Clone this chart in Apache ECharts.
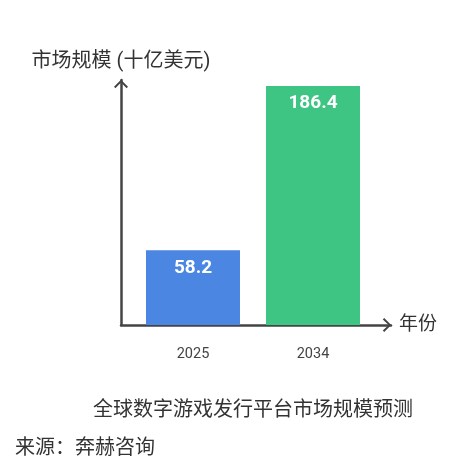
<!DOCTYPE html>
<html>
<head>
<meta charset="utf-8">
<script src="https://cdn.jsdelivr.net/npm/echarts@6/dist/echarts.min.js"></script>
<style>
  html, body { margin: 0; padding: 0; background: #fff; }
  #chart { width: 470px; height: 470px; }
</style>
</head>
<body>
<div id="chart"></div>
<script>
const years = ['2025', '2034'];
const marketSize = [58.2, 186.4];
const barColors = ['#4A86E2', '#3EC584'];

const chartTitle = '全球数字游戏发行平台市场规模预测';
const sourceText = '来源：奔赫咨询';
const yName = '市场规模 (十亿美元)';
const xName = '年份';

const font = 'Roboto, "Noto Sans CJK SC", sans-serif';
const axisColor = '#444';
// open chevron pointing up, rotated by echarts for the x axis
const arrow = 'path://M0,7 L7,0 L14,7 L12.6,8.4 L7,2.6 L1.4,8.4 Z';

const myChart = echarts.init(document.getElementById('chart'));

const option = {
    backgroundColor: '#fff',
    animation: false,
    title: [
        { text: chartTitle, left: 88, top: 396,
          textStyle: { fontFamily: font, fontSize: 20, fontWeight: 'normal', color: '#333' } },
        { text: sourceText, left: 10, top: 434,
          textStyle: { fontFamily: font, fontSize: 20, fontWeight: 'normal', color: '#333' } }
    ],
    grid: [
        // axis lines with arrows
        { left: 121, right: 79, top: 80, bottom: 145 },
        // bars
        { left: 133, right: 97, top: 80, bottom: 145 }
    ],
    xAxis: [
        {
            gridIndex: 0, type: 'value', min: 0, max: 1,
            name: xName, nameLocation: 'end', nameGap: 8,
            nameTextStyle: { fontFamily: font, fontSize: 19, color: '#333' },
            axisLine: { lineStyle: { color: axisColor, width: 2.5 },
                        symbol: ['none', arrow], symbolSize: [14, 8.4], symbolOffset: [0, -4] },
            axisTick: { show: false }, axisLabel: { show: false }, splitLine: { show: false }
        },
        {
            gridIndex: 1, type: 'category', data: years,
            axisLine: { show: false }, axisTick: { show: false },
            axisLabel: { color: axisColor, fontFamily: font, fontSize: 14.5, margin: 22 }
        }
    ],
    yAxis: [
        {
            gridIndex: 0, type: 'value', min: 0, max: 1,
            name: yName, nameLocation: 'end', nameGap: 8,
            nameTextStyle: { fontFamily: font, fontSize: 20, color: '#333' },
            axisLine: { show: true, lineStyle: { color: axisColor, width: 2.5 },
                        symbol: ['none', arrow], symbolSize: [14, 8.4], symbolOffset: [0, -4] },
            axisTick: { show: false }, axisLabel: { show: false }, splitLine: { show: false }
        },
        {
            gridIndex: 1, type: 'value', min: 0, max: 191, show: false
        }
    ],
    series: [{
        type: 'bar',
        xAxisIndex: 1, yAxisIndex: 1,
        barWidth: 94,
        data: marketSize.map((v, i) => ({ value: v, itemStyle: { color: barColors[i] } })),
        label: {
            show: true, position: 'insideTop', distance: 8,
            color: '#fff', fontFamily: font, fontSize: 19, fontWeight: 'bold'
        }
    }]
};
myChart.setOption(option);
</script>
</body>
</html>
